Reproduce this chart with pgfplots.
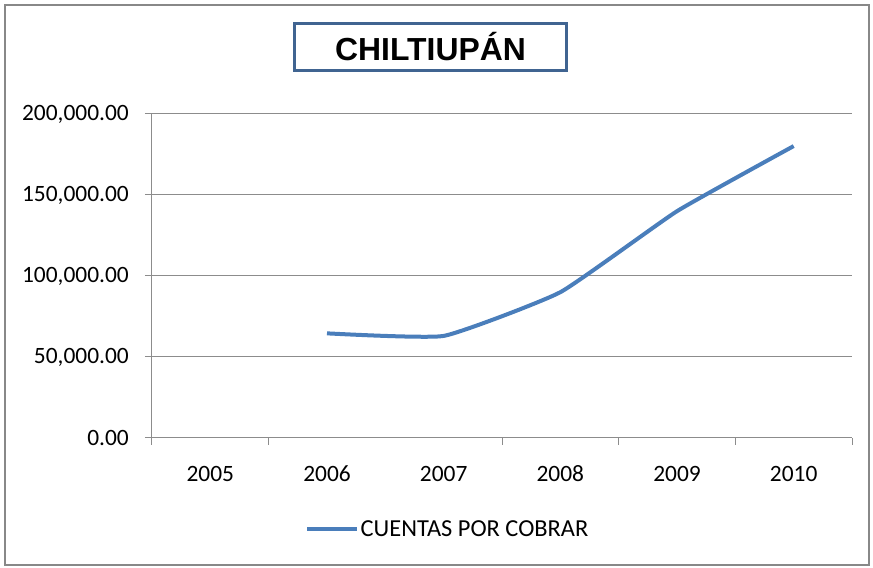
\documentclass[border=0pt]{standalone}
\usepackage{pgfplots}
\pgfplotsset{compat=1.18}
\usetikzlibrary{calc}
\usepackage{fontspec}
\setmainfont{Carlito}
\newfontfamily\titlefont{Liberation Sans}
\definecolor{framegray}{HTML}{888888}
\definecolor{gridgray}{HTML}{8C8C8C}
\definecolor{lineblue}{HTML}{4A7EBB}
\definecolor{titleblue}{HTML}{406491}
\begin{document}
\begin{tikzpicture}[x=1bp,y=1bp]
\begin{axis}[
  scale only axis, width=700bp, height=324bp,
  clip=false,
  xmin=-0.5, xmax=5.5, ymin=0, ymax=200000,
  axis x line*=bottom, axis y line*=left,
  axis line style={gridgray, line width=1bp, -},
  xtick={-0.5,0.5,2.5,3.5,4.5,5.5},
  xticklabels={{},{},{},{},{},{}},
  extra x ticks={0,1,2,3,4,5},
  extra x tick labels={2005,2006,2007,2008,2009,2010},
  extra x tick style={grid=none, tick style={draw=none}},
  ytick={0,50000,100000,150000,200000},
  scaled y ticks=false,
  yticklabel={\pgfmathprintnumber[fixed,fixed zerofill,precision=2,1000 sep={,}]{\tick}},
  /pgf/number format/assume math mode=true,
  tick align=outside,
  major tick length=7bp,
  x tick style={gridgray, line width=1bp},
  y tick style={gridgray, line width=1bp},
  ymajorgrids, xmajorgrids=false, major grid style={gridgray, line width=1bp},
  ticklabel style={font=\fontsize{23.5}{25}\selectfont, text=black},
  yticklabel style={anchor=east, inner sep=0pt, xshift=-16bp},
  xticklabel style={anchor=base, inner sep=0pt, yshift=-36bp},
  legend style={draw=none, fill=none, at={(0.2186,-0.281)}, anchor=west, inner sep=0pt,
    font=\fontsize{24.5}{26}\selectfont, nodes={inner sep=1.5bp}},
  legend image code/.code={\draw[#1, line width=4bp] (0bp,0bp) -- (50bp,0bp);},
]
\addplot[lineblue, line width=4bp, smooth, tension=0.25] coordinates {
  (1,64600) (2,63000) (3,90000) (4,140000) (5,180200)
};
\addlegendentry{CUENTAS POR COBRAR}
\coordinate (O) at (rel axis cs:0,0);
\end{axis}
\pgfresetboundingbox
\coordinate (P) at ($(O)+(-152,-130)$);
\path[use as bounding box] (P) rectangle ++(873,568);
\draw[framegray, line width=2.5bp] ($(P)+(5,3)$) rectangle ($(P)+(869,563)$);
\node[draw=titleblue, line width=3bp, minimum width=272bp, minimum height=47bp, inner sep=0pt, fill=white, font=\titlefont\bfseries\fontsize{32}{34}\selectfont] at ($(P)+(430.5,521)$) {CHILTIUPÁN};
\end{tikzpicture}
\end{document}
